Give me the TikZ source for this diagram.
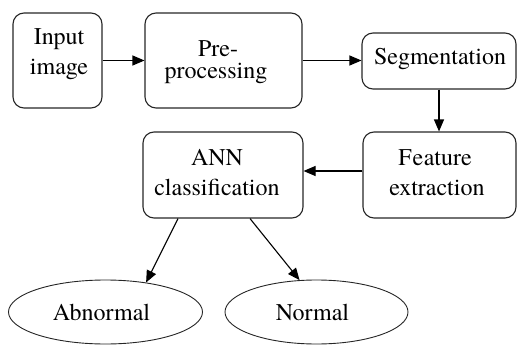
\documentclass[tikz,border=0pt]{standalone}
\usepackage{fontspec}
\setmainfont{Liberation Serif}
\newfontfamily\boxfont{texgyretermes-regular.otf}
\usetikzlibrary{arrows.meta,shapes.geometric}

\begin{document}
\begin{tikzpicture}[x=1pt,y=-1pt,
  box/.style={draw=black!85, line width=1.1pt, rounded corners=11pt, inner sep=0pt},
  oval/.style={draw=black!85, line width=0.9pt, ellipse, inner sep=0pt},
  lbl/.style={anchor=base, inner sep=0pt, font=\boxfont\fontsize{24}{28}\selectfont},
  arr/.style={draw=black, line width=1.1pt, -{Triangle[length=12pt,width=10pt]}}]
  \useasboundingbox (0,0) rectangle (517,345);

  % process boxes
  \node[box, minimum width=89pt, minimum height=95pt]  (inp) at (57.5,60.5) {};
  \node[box, minimum width=157pt, minimum height=95pt] (pre) at (223.5,60.5) {};
  \node[box, minimum width=154pt, minimum height=56pt] (seg) at (439,61) {};
  \node[box, minimum width=153pt, minimum height=86pt] (fea) at (439.5,175) {};
  \node[box, minimum width=160pt, minimum height=86pt] (ann) at (223,175) {};

  % outcome ovals
  \node[oval, minimum width=194pt, minimum height=64pt] (abn) at (105.5,312) {};
  \node[oval, minimum width=183pt, minimum height=64pt] (nor) at (316.5,312) {};

  % labels
  \node[lbl] (inpA) at (59,45) {Input};
  \node[lbl] (inpB) at (59,75) {image};
  \node[lbl] (preA) at (218,57) {Pre-};
  \node[lbl] (preB) at (216,79) {processing};
  \node[lbl] (segA) at (440,65) {Segmentation};
  \node[lbl] (annA) at (217,165) {ANN};
  \node[lbl] (annB) at (217,195) {classification};
  \node[lbl] (feaA) at (435,165) {F\kern1pt e\kern0.5pt ature};
  \node[lbl] (feaB) at (437,195) {extraction};
  \node[lbl] (abnA) at (101.5,320) {Abnormal};
  \node[lbl] (norA) at (312.5,320) {Normal};

  % flow
  \draw[arr] (inp.east) -- (pre.west);
  \draw[arr] (pre.east) -- (seg.west |- pre.east);
  \draw[arr] (seg.south) -- (seg.south |- fea.north);
  \draw[arr] ([yshift=4pt]fea.west) -- ([yshift=4pt]ann.east);
  \draw[arr] ([xshift=-45pt]ann.south) -- (abn.36);
  \draw[arr] ([xshift=27pt]ann.south) -- (nor.118);
\end{tikzpicture}
\end{document}
